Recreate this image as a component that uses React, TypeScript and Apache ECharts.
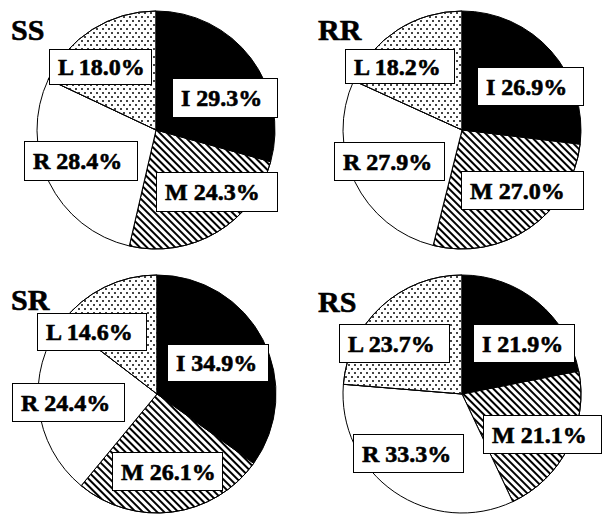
import React, { useEffect, useRef } from "react";
import * as echarts from "echarts";

const categories = ["I", "M", "R", "L"];
const groups = ["SS", "RR", "SR", "RS"];
const ssValues = [29.3, 24.3, 28.4, 18.0];
const rrValues = [26.9, 27.0, 27.9, 18.2];
const srValues = [34.9, 26.1, 24.4, 14.6];
const rsValues = [21.9, 21.1, 33.3, 23.7];
const groupValues = [ssValues, rrValues, srValues, rsValues];

// layout (not data)
const RADIUS = 119;
const centers: [number, number][] = [
  [156, 130],
  [462, 130],
  [157, 394],
  [462, 394],
];
const titlePos: [number, number][] = [
  [11, 14],
  [318, 14],
  [11, 284],
  [318, 286],
];
// label boxes relative to pie center: [dx, dy, width, height], order I, M, R, L
const labelBoxes: [number, number, number, number][][] = [
  [[17, -51, 105, 38], [1, 43, 121, 38], [-131, 12, 113, 38], [-106, -80, 102, 34]],
  [[16, -62, 106, 37], [0, 42, 122, 37], [-127, 13, 110, 37], [-116, -80, 109, 33]],
  [[11, -49, 101, 36], [-44, 59, 110, 37], [-144, -10, 112, 37], [-119, -80, 109, 36]],
  [[12, -69, 101, 37], [22, 22, 118, 37], [-108, 41, 110, 37], [-122, -69, 110, 37]],
];

const FONT = "'Liberation Serif', 'Times New Roman', serif";

const sliceStyles: any[] = [
  { color: "#000000" },
  {
    color: "#ffffff",
    decal: {
      symbol: "rect",
      symbolSize: 1,
      dashArrayX: [1, 0],
      dashArrayY: [2, 2.2],
      rotation: Math.PI / 4,
      color: "#000000",
    },
  },
  { color: "#ffffff" },
  {
    color: "#ffffff",
    decal: {
      symbol: "rect",
      symbolSize: 1,
      dashArrayX: [
        [1.5, 3.5],
        [0, 2.5, 1.5, 1],
      ],
      dashArrayY: [1.5, 1.5],
      rotation: 0,
      color: "#444444",
    },
  },
];

export default function App() {
  const ref = useRef<HTMLDivElement>(null);
  useEffect(() => {
    if (!ref.current) return;
    const chart = echarts.init(ref.current, undefined, { renderer: "svg" });
    const series = groups.map((g, gi) => ({
      type: "pie",
      name: g,
      center: centers[gi],
      radius: [0, RADIUS],
      startAngle: 90,
      clockwise: true,
      avoidLabelOverlap: false,
      labelLine: { show: false },
      itemStyle: { borderColor: "#000", borderWidth: 1 },
      emphasis: { disabled: true },
      data: categories.map((c, ci) => {
        const box = labelBoxes[gi][ci];
        return {
          name: c,
          value: groupValues[gi][ci],
          itemStyle: sliceStyles[ci],
          label: {
            width: box[2] - 9,
            lineHeight: box[3],
          },
        };
      }),
      label: {
        show: true,
        position: "inside",
        formatter: (p: any) => `${p.name} ${Number(p.value).toFixed(1)}%`,
        fontFamily: FONT,
        fontWeight: "bold",
        fontSize: 24,
        color: "#000",
        textBorderColor: "#000",
        textBorderWidth: 0.6,
        backgroundColor: "#fff",
        borderColor: "#000",
        borderWidth: 1,
        padding: [0, 0, 0, 8],
        align: "left",
      },
      labelLayout: (params: any) => {
        const box = labelBoxes[gi][params.dataIndex];
        return {
          x: centers[gi][0] + box[0],
          y: centers[gi][1] + box[1],
          align: "left",
          verticalAlign: "top",
        };
      },
    }));
    chart.setOption({
      animation: false,
      backgroundColor: "#fff",
      title: groups.map((g, gi) => ({
        text: g,
        left: titlePos[gi][0],
        top: titlePos[gi][1],
        padding: 0,
        textStyle: {
          fontFamily: FONT,
          fontWeight: "bold",
          fontSize: 30,
          color: "#000",
          textBorderColor: "#000",
          textBorderWidth: 0.6,
        },
      })),
      series,
    });
    return () => chart.dispose();
  }, []);
  return (
    <div
      ref={ref}
      style={{ position: "absolute", left: 0, top: 0, width: 614, height: 526 }}
    />
  );
}
